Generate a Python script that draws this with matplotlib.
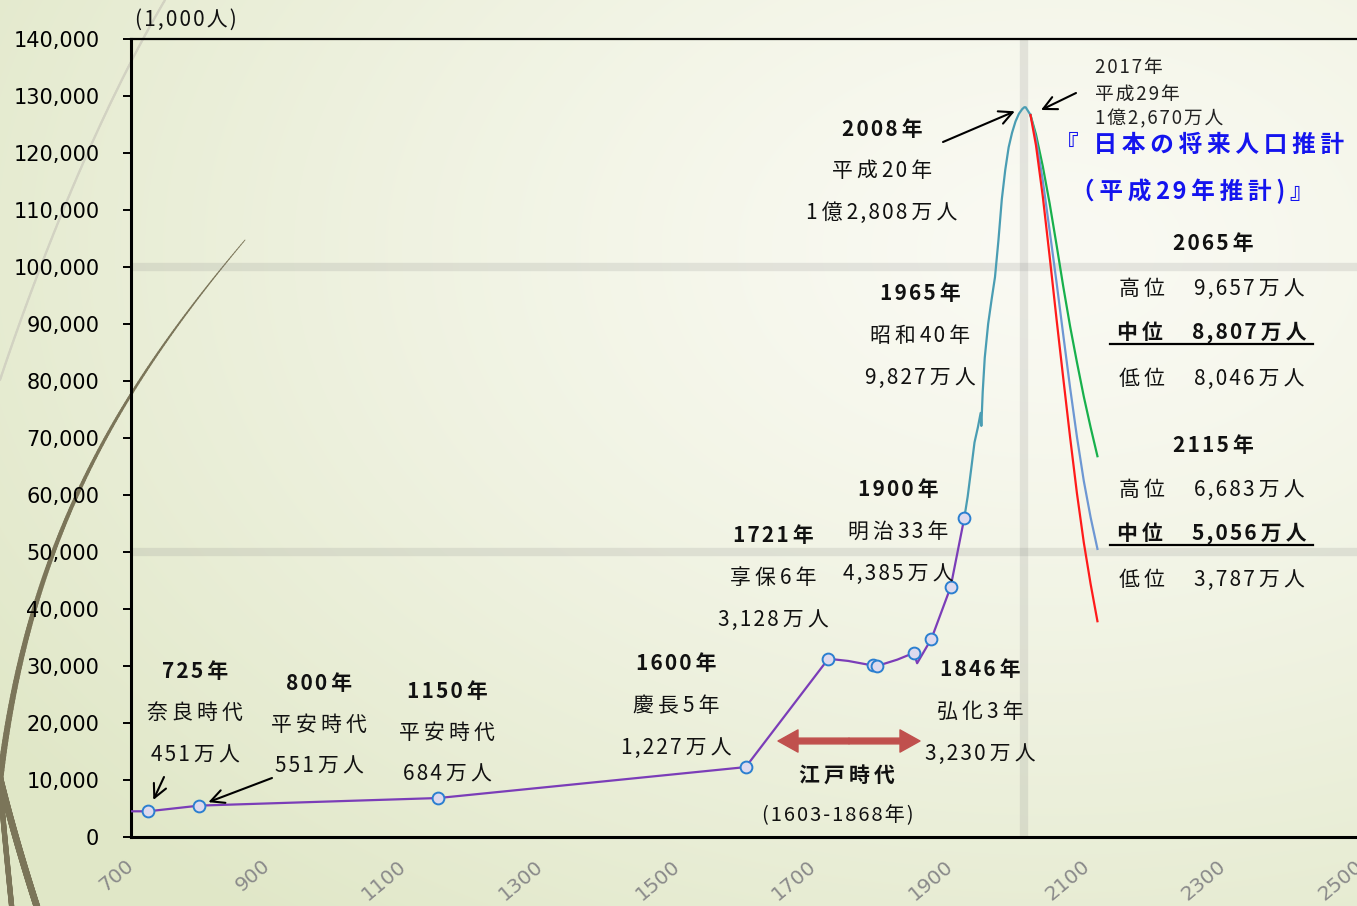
import numpy as np
import matplotlib
matplotlib.use("Agg")
import matplotlib.pyplot as plt
from matplotlib.transforms import Affine2D
from matplotlib.patches import FancyArrowPatch
from matplotlib.collections import LineCollection
from matplotlib.lines import Line2D

plt.rcParams['font.family'] = ['Noto Sans CJK JP', 'DejaVu Sans']

# ---------------- data: population in thousands ----------------
early_years = [700, 725, 800, 1150, 1600, 1721, 1750, 1786, 1792, 1822, 1846, 1851, 1872, 1900, 1920]
early_pop = [4510, 4510, 5510, 6840, 12270, 31280, 30900, 30100, 30000, 31130, 32300, 30500, 34810, 43850, 55960]
marker_years = [725, 800, 1150, 1600, 1721, 1786, 1792, 1846, 1872, 1900, 1920]

modern_years = [1920, 1925, 1930, 1935, 1940, 1944, 1945, 1947, 1950, 1955, 1960, 1965,
                1970, 1975, 1980, 1985, 1990, 1995, 2000, 2005, 2008, 2010, 2015, 2017]
modern_pop = [55960, 59740, 64450, 69250, 71930, 74430, 72150, 78100, 84120, 90080, 94300, 98270,
              104670, 111940, 117060, 121050, 123610, 125570, 126930, 127770, 128080, 128060, 127100, 126700]

proj_years = [2017, 2025, 2035, 2045, 2055, 2065, 2075, 2085, 2095, 2105, 2115]
proj_high = [126700, 123300, 117700, 111200, 104000, 96570, 89600, 83300, 77300, 71900, 66830]
proj_mid = [126700, 122540, 115220, 106420, 97440, 88070, 78800, 70200, 62500, 56100, 50560]
proj_low = [126700, 121400, 112400, 101900, 91000, 80460, 70100, 60300, 51700, 44400, 37870]

events = [(725, "奈良時代"), (800, "平安時代"), (1150, "平安時代"), (1600, "慶長5年"),
          (1721, "享保6年"), (1846, "弘化3年"), (1900, "明治33年"), (1965, "昭和40年"),
          (2008, "平成20年")]

xticks = list(range(700, 2501, 200))
yticks = list(range(0, 140001, 10000))

pop_at = dict(zip(early_years + modern_years, early_pop + modern_pop))
proj_at = {name: dict(zip(proj_years, vals))
           for name, vals in (("high", proj_high), ("mid", proj_mid), ("low", proj_low))}


def man(v):
    """thousands of people -> '…万人' / '…億…万人'"""
    v = int(round(v / 10))
    if v >= 10000:
        return f"{v // 10000}億{v % 10000:,}万人"
    return f"{v:,}万人"


# ---------------- figure ----------------
W, H = 1357, 906
fig = plt.figure(figsize=(W / 100, H / 100), dpi=100)
PIX = Affine2D().scale(1, -1).translate(0, H)   # pixel coordinates, y downward

# background gradient and ornament strokes
bg = fig.add_axes([0, 0, 1, 1], zorder=0)
bg.set_xlim(0, W)
bg.set_ylim(H, 0)
bg.axis('off')
yy, xx = np.mgrid[0:H, 0:W]
d = np.hypot((xx - 1050) / W, (yy - 250) / H)
t = np.clip(d / 0.95, 0, 1) ** 1.3
light = np.array([250, 250, 243]) / 255
green = np.array([224, 231, 199]) / 255
img = light[None, None, :] * (1 - t[..., None]) + green[None, None, :] * t[..., None]
bg.imshow(img, extent=(0, W, H, 0), aspect='auto', interpolation='bilinear')


def bezier(p0, p1, p2, p3, n=200):
    s = np.linspace(0, 1, n)[:, None]
    p0, p1, p2, p3 = map(np.asarray, (p0, p1, p2, p3))
    return ((1 - s) ** 3) * p0 + 3 * ((1 - s) ** 2) * s * p1 + 3 * (1 - s) * s ** 2 * p2 + s ** 3 * p3


def stroke(pts, w0, w1, color):
    segs = np.stack([pts[:-1], pts[1:]], axis=1)
    widths = np.linspace(w0, w1, len(segs))
    bg.add_collection(LineCollection(segs, linewidths=widths, colors=color, capstyle='round'))


stroke(bezier((0, 380), (40, 260), (100, 110), (165, 0)), 1.6, 1.6, '#d2d2c2')
stroke(bezier((-4, 820), (18, 560), (110, 400), (245, 240)), 4.8, 0.6, '#7b7559')
stroke(bezier((-2, 770), (10, 820), (25, 870), (38, 910)), 4.8, 4.8, '#7b7559')
stroke(bezier((0, 785), (4, 830), (8, 870), (12, 910)), 3.8, 3.8, '#7b7559')

# ---------------- main axes ----------------
x_scale = 0.683
ax = fig.add_axes([131 / W, (H - 837) / H, (1800 * x_scale) / W, (837 - 39.3) / H], zorder=1)
ax.patch.set_alpha(0)
ax.set_xlim(700, 2500)
ax.set_ylim(0, 140000)

for side in ('left', 'bottom'):
    ax.spines[side].set_linewidth(2.2)
ax.spines['top'].set_linewidth(1.6)
ax.spines['right'].set_visible(False)

ax.set_yticks(yticks)
ax.set_yticklabels([f"{v:,}" for v in yticks])
ax.tick_params(axis='y', direction='out', length=5.8, width=1.4, pad=17, labelsize=15)
for lbl in ax.get_yticklabels():
    lbl.set_fontfamily('DejaVu Sans')

ax.set_xticks(xticks)
ax.set_xticklabels([str(v) for v in xticks], rotation=40, ha='right', va='center',
                   rotation_mode='anchor', color='#8a8a8a', fontsize=14.5)
ax.tick_params(axis='x', length=0, pad=19)
for lbl in ax.get_xticklabels():
    lbl.set_fontfamily('DejaVu Sans')

# soft reference lines
grid_c = (0.5, 0.5, 0.5, 0.17)
ax.axhline(50000, color=grid_c, lw=6, zorder=0.5)
ax.axhline(100000, color=grid_c, lw=6, zorder=0.5)
ax.axvline(2008, color=grid_c, lw=6, zorder=0.5)

# population series
ax.plot(early_years, early_pop, color='#7b3db8', lw=1.6, zorder=3)
ax.plot(modern_years, modern_pop, color='#4a9db3', lw=1.6, zorder=3)
ax.plot(proj_years, proj_high, color='#18b04c', lw=1.6, zorder=3)
ax.plot(proj_years, proj_mid, color='#6d97d3', lw=1.6, zorder=3)
ax.plot(proj_years, proj_low, color='#ff1a1a', lw=1.6, zorder=3)
ax.plot(marker_years, [pop_at[y] for y in marker_years], ls='none', marker='o', ms=8.5,
        mfc='#dedaee', mec='#2b7fd0', mew=1.4, zorder=4)


# ---------------- text ----------------
def wide(c):
    return ord(c) >= 0x2E80


def spaced(s, wide_gap='\u2009', narrow_gap='\u200a'):
    out = s[:1]
    for a, b in zip(s, s[1:]):
        out += (wide_gap if (wide(a) or wide(b)) else narrow_gap) + b
    return out


def put(x, y, s, size=15, bold=False, color='#111111', ha='center', wide_gap='\u2009',
        narrow_gap='\u200a'):
    fig.text(x, y, spaced(s, wide_gap, narrow_gap), transform=PIX, fontsize=size,
             fontweight='bold' if bold else 'normal', color=color, ha=ha, va='center', zorder=5)


put(186, 20, "(1,000人)", size=15, wide_gap='\u200a')

label_pos = {
    725: (195, 672, 713, 756),
    800: (319, 683, 725, 767),
    1150: (447, 691, 733, 775),
    1600: (676, 663, 706, 748),
    1721: (773, 536, 578, 620),
    1846: (980, 670, 712, 754),
    1900: (898, 490, 532, 574),
    1965: (920, 294, 336, 378),
    2008: (882, 129, 171, 213),
}
for year, era in events:
    cx, y1, y2, y3 = label_pos[year]
    put(cx, y1, f"{year}年", bold=True)
    put(cx, y2, era)
    put(cx, y3, man(pop_at[year]))

# current-year note
note_kw = dict(size=13.5, color='#222222', ha='left', wide_gap='\u200a', narrow_gap='\u200a')
put(1095, 68, "2017年", **note_kw)
put(1095, 94, "平成29年", **note_kw)
put(1095, 119, man(pop_at[2017]), **note_kw)

arrow_kw = dict(arrowstyle='->,head_length=0.6,head_width=0.3', lw=1.5, color='black',
                shrinkA=0, mutation_scale=16)
for year, tail, shrink in ((725, (164, 777), 9), (800, (272, 778), 7),
                           (2008, (943, 142), 7.5), (2017, (1076, 93), 8.4)):
    ax.annotate('', xy=(year, pop_at[year]), xycoords='data', xytext=tail, textcoords=PIX,
                arrowprops=dict(arrow_kw, shrinkB=shrink), zorder=5)

# projection panel
blue = '#1414ee'
put(1200, 145, "『 日本の将来人口推計", size=17, bold=True, color=blue)
put(1192, 191, "（平成29年推計)』", size=17, bold=True, color=blue)

panel = [(2065, 244), (2115, 445)]
for year, y0 in panel:
    put(1213, y0, f"{year}年", bold=True)
    put(1212, y0 + 45, f"高位　{man(proj_at['high'][year])}")
    put(1212, y0 + 89, f"中位　{man(proj_at['mid'][year])}", bold=True)
    put(1212, y0 + 135, f"低位　{man(proj_at['low'][year])}")
    fig.add_artist(Line2D([1110, 1313], [y0 + 99.5, y0 + 99.5], transform=PIX,
                          color='black', lw=1.6, zorder=5))

# Edo period span
edo_c = '#c0504d'
for end in ((778, 741), (920, 741)):
    fig.add_artist(FancyArrowPatch((849, 741), end, transform=PIX,
                                   arrowstyle='simple,head_length=0.9,head_width=1.0,tail_width=0.26',
                                   mutation_scale=16, color=edo_c, shrinkA=0, shrinkB=0, zorder=5))
put(847, 775, "江戸時代", bold=True)
put(838, 816, "(1603-1868年)", size=14.5, wide_gap='\u200a')

fig.savefig("out.png", dpi=100)
